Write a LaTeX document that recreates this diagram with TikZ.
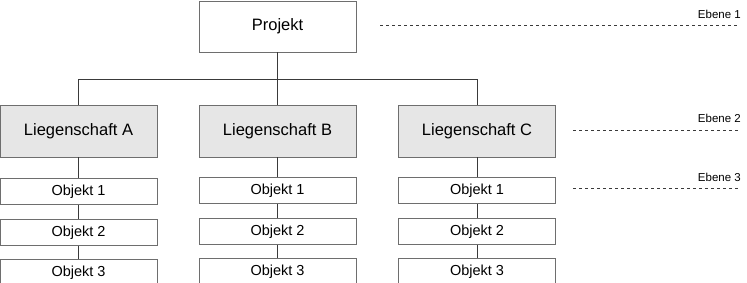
\documentclass[tikz,border=0pt]{standalone}
\usepackage{fontspec}
\setmainfont{Liberation Sans}
\usepackage{xcolor}
\usetikzlibrary{positioning}

\definecolor{boxline}{HTML}{6E6E6E}
\definecolor{boxfill}{HTML}{E6E6E6}
\definecolor{linkline}{HTML}{3A3A3A}

\begin{document}
\begin{tikzpicture}[x=1pt, y=-1pt, node distance=14pt,
    projbox/.style={draw=boxline, line width=0.8pt, rectangle, minimum width=157pt, minimum height=51pt, inner sep=0pt, font=\fontsize{16.5}{19}\selectfont},
    lsbox/.style={draw=boxline, fill=boxfill, line width=0.8pt, rectangle, minimum width=157pt, minimum height=52pt, inner sep=0pt, font=\fontsize{16.5}{19}\selectfont},
    objbox/.style={draw=boxline, line width=0.8pt, rectangle, minimum width=157pt, minimum height=26pt, inner sep=0pt, font=\fontsize{14.5}{17}\selectfont},
    link/.style={draw=linkline, line width=0.9pt},
    levelline/.style={draw=linkline, line width=0.7pt, dash pattern=on 3pt off 3pt},
    levellabel/.style={anchor=base east, inner sep=0pt, font=\fontsize{11.5}{13}\selectfont}]
    \useasboundingbox (0,0) rectangle (747,283);

    \node (proj) [projbox] at (277.5,26.5) {Projekt};
    \node (lsA) [lsbox] at (78.5,131) {Liegenschaft A};
    \node (lsB) [lsbox] at (277.5,131) {Liegenschaft B};
    \node (lsC) [lsbox] at (477,131) {Liegenschaft C};

    \node (objA1) [objbox, below=21pt of lsA] {Objekt 1};
    \node (objA2) [objbox, below=of objA1] {Objekt 2};
    \node (objA3) [objbox, below=13pt of objA2] {Objekt 3};
    \node (objB1) [objbox, below=20pt of lsB] {Objekt 1};
    \node (objB2) [objbox, below=of objB1] {Objekt 2};
    \node (objB3) [objbox, below=13pt of objB2] {Objekt 3};
    \node (objC1) [objbox, below=20pt of lsC] {Objekt 1};
    \node (objC2) [objbox, below=of objC1] {Objekt 2};
    \node (objC3) [objbox, below=13pt of objC2] {Objekt 3};

    % tree
    \coordinate (bus) at (277.5,79.5);
    \draw[link] (proj.south) -- (lsB.north);
    \draw[link] (lsA.north) |- (bus) -| (lsC.north);
    \draw[link] (lsA) -- (objA1) (objA1) -- (objA2) (objA2) -- (objA3);
    \draw[link] (lsB) -- (objB1) (objB1) -- (objB2) (objB2) -- (objB3);
    \draw[link] (lsC) -- (objC1) (objC1) -- (objC2) (objC2) -- (objC3);

    % levels
    \coordinate (e1a) at (380,25.5);  \coordinate (e1b) at (738,25.5);
    \coordinate (e2a) at (573,130.5); \coordinate (e2b) at (738,130.5);
    \coordinate (e3a) at (573,188.5); \coordinate (e3b) at (738,188.5);
    \draw[levelline] (e1a) -- (e1b);
    \draw[levelline] (e2a) -- (e2b);
    \draw[levelline] (e3a) -- (e3b);
    \node (eb1) [levellabel] at (741,19) {Ebene 1};
    \node (eb2) [levellabel] at (741,123) {Ebene 2};
    \node (eb3) [levellabel] at (741,182) {Ebene 3};
\end{tikzpicture}
\end{document}
